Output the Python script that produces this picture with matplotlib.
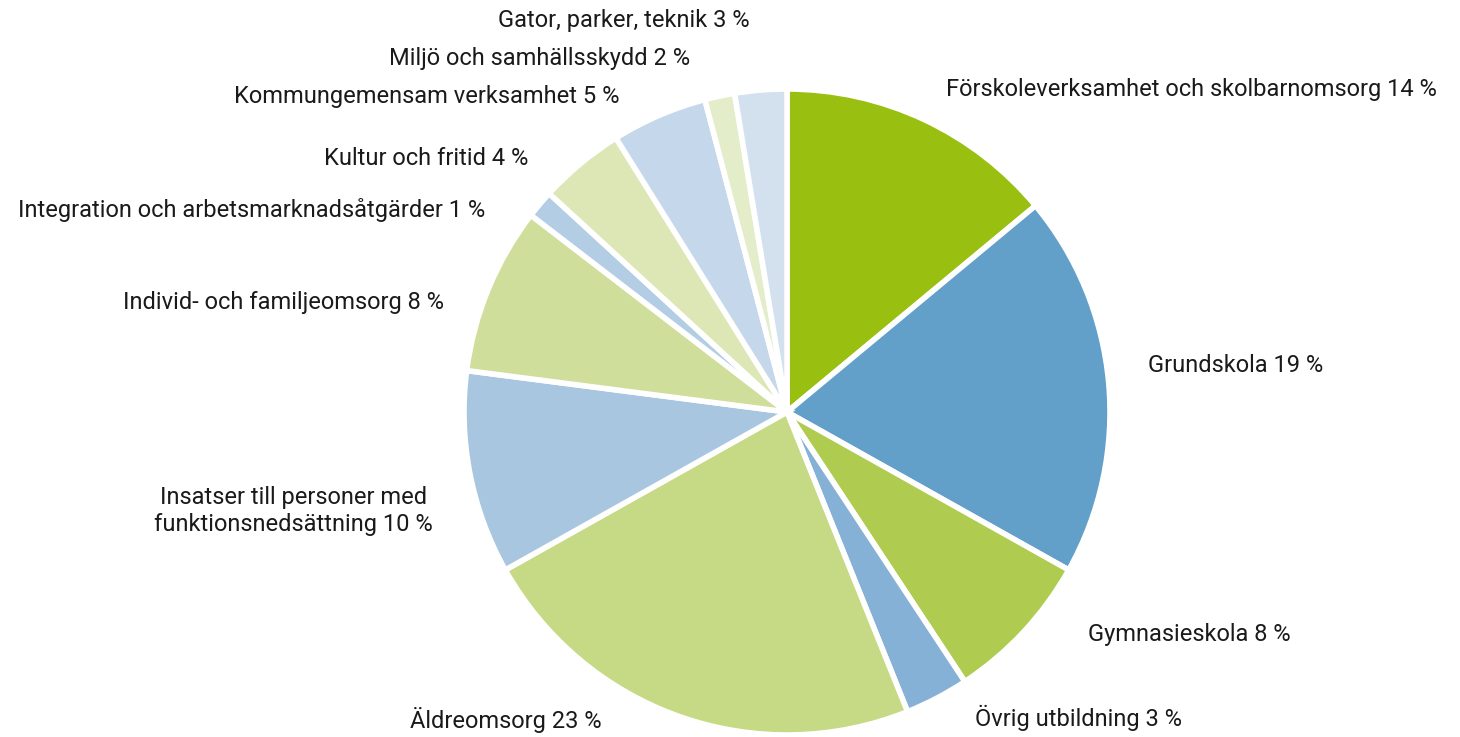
import matplotlib.pyplot as plt

categories = ['Förskoleverksamhet och skolbarnomsorg', 'Grundskola', 'Gymnasieskola',
              'Övrig utbildning', 'Äldreomsorg', 'Insatser till personer med\nfunktionsnedsättning',
              'Individ- och familjeomsorg', 'Integration och arbetsmarknadsåtgärder',
              'Kultur och fritid', 'Kommungemensam verksamhet', 'Miljö och samhällsskydd',
              'Gator, parker, teknik']
shares = [14.0, 19.2, 7.6, 3.2, 23.0, 10.2, 8.4, 1.4, 4.3, 4.8, 1.5, 2.6]
label_pct = [14, 19, 8, 3, 23, 10, 8, 1, 4, 5, 2, 3]
colors = ['#99c010', '#62a0ca', '#afcb50', '#86b1d6', '#c6da85', '#a9c6e0',
          '#d0de9b', '#b3cde4', '#dce7b5', '#c5d7eb', '#e4edc9', '#d3e1ef']

# label anchor in pixel coords (x, y from top, ha)
label_pos = [(946, 89, 'left'), (1148, 365, 'left'), (1088, 635, 'left'),
             (975, 718, 'left'), (410, 720, 'left'), (433, 511, 'right'),
             (444, 302, 'right'), (485, 210, 'right'), (528, 158, 'right'),
             (620, 96, 'right'), (690, 58, 'right'), (750, 20, 'right')]

W, H = 1460, 737
fig = plt.figure(figsize=(W / 100, H / 100), dpi=100)
ax = fig.add_axes([0, 0, 1, 1])

ax.pie(shares, colors=colors, startangle=90, counterclock=False,
       center=(787, H - 412), radius=323,
       wedgeprops=dict(edgecolor='white', linewidth=4))

for cat, val, (x, y, ha) in zip(categories, label_pct, label_pos):
    ax.text(x, H - y, f'{cat} {val} %', ha=ha, va='center', fontsize=17,
            family='Roboto', color='#1a1a1a', multialignment='center')

ax.set_xlim(0, W)
ax.set_ylim(0, H)
ax.set_aspect('equal')
ax.axis('off')

fig.savefig('out.png', dpi=100)
